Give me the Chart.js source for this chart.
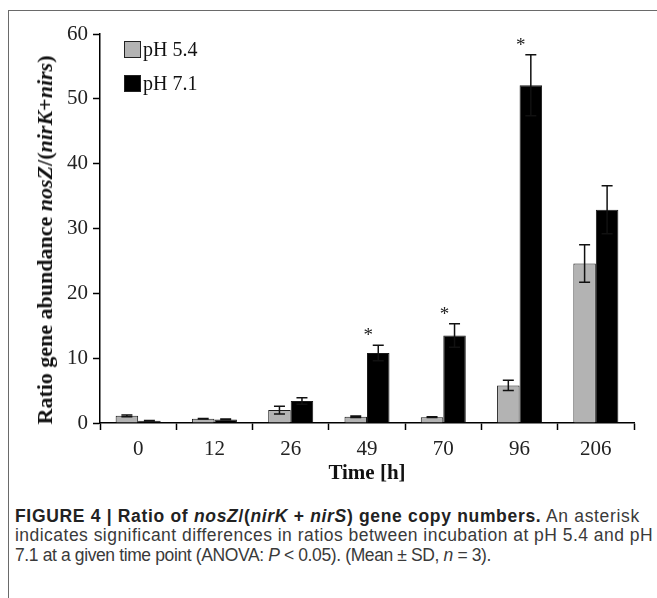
<!DOCTYPE html>
<html>
<head>
<meta charset="utf-8">
<script src="https://cdn.jsdelivr.net/npm/chart.js@4.4.1/dist/chart.umd.min.js"></script>
<style>
  html, body { margin: 0; padding: 0; background: #fff; }
  body { width: 657px; height: 598px; position: relative; overflow: hidden; }
  #moldura { position: absolute; left: 8px; top: 10px; right: 0; bottom: -2px;
    border-left: 1.5px solid #6a6a6a; border-top: 1.5px solid #6a6a6a; }
  #grafico { position: absolute; left: 0; top: 0; }
  #titulo-y { position: absolute; left: 45px; top: 240px; white-space: nowrap;
    transform: translate(-50%, -50%) rotate(-90deg);
    font: bold 22px "Liberation Serif", "Times New Roman", serif; color: #111; }
  .legenda-item { position: absolute; left: 124px; height: 17px; white-space: nowrap;
    font: 20px "Liberation Serif", "Times New Roman", serif; color: #111; line-height: 17px; }
  .legenda-caixa { display: inline-block; width: 15px; height: 15px; border: 1px solid #222;
    vertical-align: top; margin-right: 2px; }
  #legenda { position: absolute; left: 0; top: 0; }
  #legenda-texto { position: absolute; left: 15px; top: 507px; color: #3a3a3a;
    font: 17.5px "Liberation Sans", Arial, sans-serif; line-height: 19.3px; white-space: nowrap; }
  #legenda-texto div { display: inline-block; }
  #legenda-texto b { color: #222; }
</style>
</head>
<body>
<div id="moldura"></div>
<canvas id="grafico" width="657" height="500"></canvas>
<div id="titulo-y">Ratio gene abundance <i>nosZ</i>/(<i>nirK</i>+<i>nirs</i>)</div>
<div id="legenda"></div>
<div id="legenda-texto">
  <div data-largura="625"><b>FIGURE 4 | Ratio of <i>nosZ</i>/(<i>nirK</i> + <i>nirS</i>) gene copy numbers.</b> An asterisk</div><br>
  <div data-largura="638">indicates significant differences in ratios between incubation at pH 5.4 and pH</div><br>
  <div data-largura="476">7.1 at a given time point (ANOVA: <i>P</i> &lt; 0.05). (Mean ± SD, <i>n</i> = 3).</div>
</div>
<script>
// tempos de incubacao (h)
const tempos = ["0", "12", "26", "49", "70", "96", "206"];
const ph54 = [1.1, 0.65, 2.0, 0.95, 0.9, 5.8, 24.6];
const ph54Dp = [0.15, 0.05, 0.6, 0.12, 0.06, 0.8, 2.9];
const ph71 = [0.35, 0.55, 3.4, 10.8, 13.5, 52.1, 32.9];
const ph71Dp = [0.05, 0.05, 0.5, 1.2, 1.8, 4.7, 3.7];
const significativo = [false, false, false, true, true, true, false];
const rotulos = ["pH 5.4", "pH 7.1"];
const cores = ["#b3b3b3", "#000000"];

const fonteSerif = "'Liberation Serif', 'Times New Roman', serif";

// ajusta o espacamento de cada linha da legenda da figura
document.querySelectorAll("#legenda-texto div").forEach((linha) => {
  const alvo = Number(linha.dataset.largura);
  const n = linha.textContent.length;
  const atual = linha.getBoundingClientRect().width;
  linha.style.letterSpacing = ((alvo - atual) / n).toFixed(3) + "px";
});

// legenda em html, dentro da area do grafico
const legenda = document.getElementById("legenda");
rotulos.forEach((r, i) => {
  const item = document.createElement("div");
  item.className = "legenda-item";
  item.style.top = (41 + i * 34) + "px";
  item.innerHTML = `<span class="legenda-caixa" style="background:${cores[i]}"></span>${r}`;
  legenda.appendChild(item);
});

const barrasErro = {
  id: "barrasErro",
  afterDatasetsDraw(chart) {
    const ctx = chart.ctx;
    const y = chart.scales.y;
    const desvios = [ph54Dp, ph71Dp];
    ctx.save();
    ctx.strokeStyle = "#111";
    ctx.lineWidth = 1.5;
    chart.data.datasets.forEach((ds, d) => {
      const meta = chart.getDatasetMeta(d);
      meta.data.forEach((barra, i) => {
        const v = ds.data[i];
        const sd = desvios[d][i];
        const topo = y.getPixelForValue(v + sd);
        const base = y.getPixelForValue(Math.max(0, v - sd));
        ctx.beginPath();
        ctx.moveTo(barra.x, topo);
        ctx.lineTo(barra.x, base);
        ctx.moveTo(barra.x - 5.5, topo);
        ctx.lineTo(barra.x + 5.5, topo);
        ctx.moveTo(barra.x - 5.5, base);
        ctx.lineTo(barra.x + 5.5, base);
        ctx.stroke();
        if (d === 1 && significativo[i]) {
          ctx.fillStyle = "#222";
          ctx.font = "19px " + fonteSerif;
          ctx.textAlign = "center";
          ctx.textBaseline = "middle";
          ctx.fillText("*", barra.x - 10, topo - 9);
        }
      });
    });
    ctx.restore();
  },
};

new Chart(document.getElementById("grafico"), {
  type: "bar",
  data: {
    labels: tempos,
    datasets: rotulos.map((r, i) => ({
      label: r,
      data: i === 0 ? ph54 : ph71,
      backgroundColor: cores[i],
      borderColor: "#1a1a1a",
      borderWidth: 1,
      categoryPercentage: 0.59,
      barPercentage: 1.0,
    })),
  },
  options: {
    responsive: false,
    animation: false,
    layout: { padding: { left: 0, right: 23, top: 34, bottom: 0 } },
    plugins: { legend: { display: false }, tooltip: { enabled: false } },
    scales: {
      x: {
        afterFit: (s) => { s.height = 77; },
        grid: { offset: true, drawOnChartArea: false, tickLength: 7, tickColor: "#000", tickWidth: 1.5 },
        border: { color: "#000", width: 1.5 },
        ticks: { color: "#222", padding: 7, font: { family: fonteSerif, size: 21 } },
        title: {
          display: true, text: "Time [h]", color: "#111",
          font: { family: fonteSerif, size: 21, weight: "bold" },
          padding: { top: 0, bottom: 14 },
        },
      },
      y: {
        min: 0, max: 60,
        afterFit: (s) => { s.width = 100; },
        grid: { drawOnChartArea: false, tickLength: 7, tickColor: "#000", tickWidth: 1.5 },
        border: { color: "#000", width: 1.5 },
        ticks: { stepSize: 10, color: "#222", padding: 5, font: { family: fonteSerif, size: 21 } },
      },
    },
  },
  plugins: [barrasErro],
});
</script>
</body>
</html>
